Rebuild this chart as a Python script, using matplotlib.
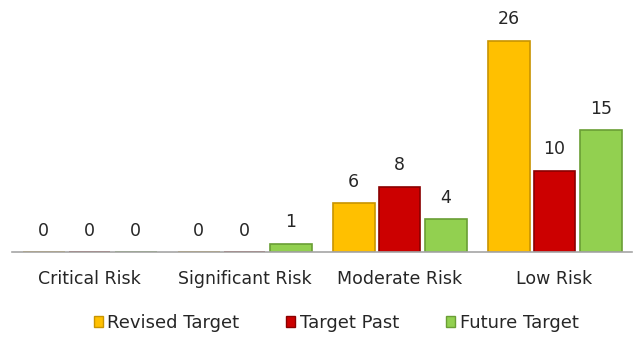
import numpy as np
from matplotlib import pyplot as plt
from matplotlib.patches import Patch

categories = ["Critical Risk", "Significant Risk", "Moderate Risk", "Low Risk"]
revised_target = [0, 0, 6, 26]
target_past = [0, 0, 8, 10]
future_target = [0, 1, 4, 15]

series = [
    ("Revised Target", revised_target, "#FFC000", "#C89400"),
    ("Target Past", target_past, "#CC0000", "#8A0000"),
    ("Future Target", future_target, "#92D050", "#6A9E35"),
]

plt.rcParams['font.family'] = ['DejaVu Sans']

fig = plt.figure(figsize=(6.38, 3.38), dpi=100)
ax = fig.add_axes([12 / 638, 86 / 338, 620 / 638, 252 / 338])

x = np.arange(len(categories))
width = 0.27
offsets = [-0.295, 0, 0.298]

handles = []
for (name, vals, color, edge), off in zip(series, offsets):
    bars = ax.bar(x + off, vals, width, color=color, edgecolor=edge, linewidth=1.2)
    for b, v in zip(bars, vals):
        ax.annotate(str(v), (b.get_x() + b.get_width() / 2, v),
                    xytext=(0, 9), textcoords="offset points",
                    ha="center", va="bottom", fontsize=12.5, color="#262626")
    handles.append(Patch(facecolor=color, edgecolor=edge, label=name))

ax.set_xlim(-0.5, 3.5)
ax.set_ylim(0, 31)
ax.set_xticks(x)
ax.set_xticklabels(categories, fontsize=12.5, color="#262626")
ax.tick_params(axis="x", length=0, pad=13)
ax.set_yticks([])
for s in ["top", "right", "left"]:
    ax.spines[s].set_visible(False)
ax.spines["bottom"].set_color("#A6A6A6")
ax.spines["bottom"].set_linewidth(1.2)

fig.legend(handles=handles, loc="lower center", ncol=3, frameon=False,
           bbox_to_anchor=(0.527, -0.03), fontsize=13, handlelength=0.5,
           handleheight=0.5, handletextpad=0.25, columnspacing=2.6,
           labelcolor="#262626")

fig.savefig("out.png", dpi=100)
plt.close()
